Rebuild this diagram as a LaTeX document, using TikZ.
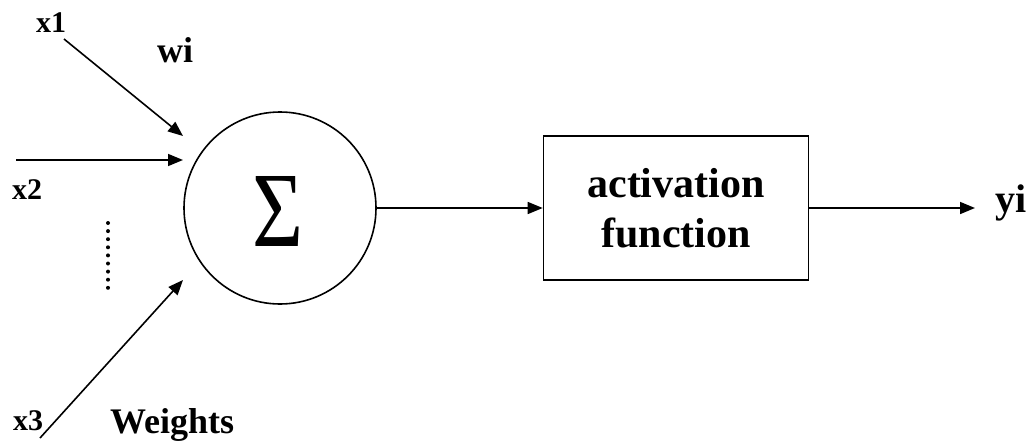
\documentclass[tikz,border=0pt]{standalone}
\usepackage{fontspec}
\setmainfont{Liberation Serif}
\usetikzlibrary{arrows.meta}
\begin{document}
\begin{tikzpicture}[x=1pt,y=-1pt,
  conn/.style={line width=1.6pt,-{Triangle[length=15pt,width=12pt]}},
  lbl/.style={inner sep=0pt,anchor=base west,font=\bfseries\fontsize{30}{36}\selectfont},
  biglbl/.style={inner sep=0pt,anchor=base west,font=\bfseries\fontsize{36}{43}\selectfont}]
\useasboundingbox (0,0) rectangle (1030,447);
% main nodes
\node (sum) [circle,draw,line width=1.6pt,minimum size=192pt,inner sep=0pt] at (280,208) {};
\node (sig) [inner sep=0pt] at (277.5,211.5) {\resizebox{51pt}{70pt}{\fontsize{40}{40}\selectfont Σ}};
\node (act) [draw,line width=1.6pt,minimum width=265pt,minimum height=144pt,inner sep=0pt,align=center,
  font=\bfseries\fontsize{42}{50}\selectfont] at (676,208) {activation\\function};
% free ends
\coordinate (i1) at (64,39);
\coordinate (t1) at (183,136);
\coordinate (i2) at (16,160);
\coordinate (t2) at (183,160);
\coordinate (i3) at (40,438);
\coordinate (t3) at (183,280);
\coordinate (out) at (975,208);
\coordinate (d1) at (108,223);
\coordinate (d2) at (108,288);
% connectors
\draw[conn] (i1) -- (t1);
\draw[conn] (i2) -- (t2);
\draw[conn] (i3) -- (t3);
\draw[conn] (sum.east) -- (act.west);
\draw[conn] (act.east) -- (out);
\draw[line width=4pt,line cap=round,dash pattern=on 0pt off 8.1pt] (d1) -- (d2);
% labels
\node (lx1) [lbl] at (36,32) {x1};
\node (lwi) [biglbl] at (157,62) {wi};
\node (lx2) [lbl] at (12,199) {x2};
\node (lx3) [lbl] at (13,430) {x3};
\node (lw) [biglbl] at (110,433) {Weights};
\node (ly) [biglbl,font=\bfseries\fontsize{40}{48}\selectfont] at (995,212) {yi};
\end{tikzpicture}
\end{document}
